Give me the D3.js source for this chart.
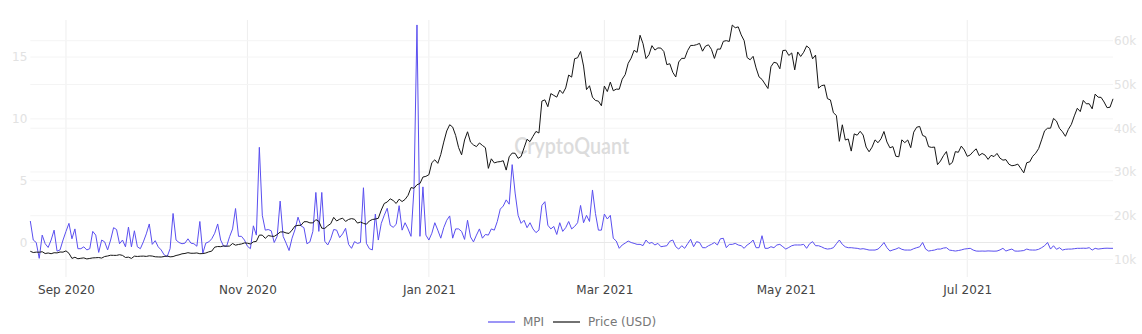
<!DOCTYPE html>
<html>
<head>
<meta charset="utf-8">
<script src="https://cdn.jsdelivr.net/npm/d3@7"></script>
<style>
  body { margin: 0; background: #fff; }
  text { font-family: "DejaVu Sans", Verdana, sans-serif; }
</style>
</head>
<body>
<svg id="chart" width="1142" height="334"></svg>
<script>
// daily values, first day 2020-08-20, last day 2021-08-19
const startDay = "2020-08-20";

const mpi = [
  1.74, 0.2, 0.0, -1.28, 0.6, -0.1, -0.4, 0.2, 1.0, -0.7,
  -0.6, 0.2, 0.9, 1.55, 0.3, 1.1, -0.5, -0.5, -0.35, -0.6,
  -0.5, 0.9, 0.6, -0.8, 0.2, 0.05, -0.6, 0.2, 1.2, 1.05,
  -0.1, 0.2, -0.35, 1.25, -0.35, 0.95, -0.35, -0.5, 0.05, 0.7,
  1.5, -0.15, 0.15, -0.35, -0.6, -1.0, -1.15, -0.5, 2.35, 0.2,
  0.0, -0.1, -0.05, 0.3, -0.05, -0.1, -0.3, 1.7, -0.88, -0.05,
  0.05, 0.3, 0.75, 1.5, 0.2, -0.3, -0.3, 0.47, 1.1, 2.75,
  0.5, 0.5, 0.2, -0.3, -0.5, 1.35, 0.6, 7.7, 2.2, 1.0,
  1.05, 0.95, 0.0, 0.5, 3.35, 0.5, -0.05, -0.65, 0.35, 1.05,
  2.05, 1.35, 1.2, -0.1, 0.05, 0.9, 4.05, 0.9, 4.05, 0.1,
  -0.2, 0.3, 1.05, 1.0, 0.4, 0.7, 1.15, -0.15, -0.47, 0.07,
  -0.07, 0.0, 4.43, -0.07, -0.5, -0.6, 2.3, 0.2, 1.55, 2.2,
  2.77, 1.4, 1.23, 1.47, 2.98, 1.0, 1.6, 1.1, 0.5, 4.38,
  17.6, 0.5, 4.5, 0.6, 0.2, 0.75, 1.6, 1.0, 0.35, 1.2,
  1.8, 2.15, 0.35, 1.1, 1.1, 0.9, 0.25, 1.8, 0.45, 0.05,
  0.6, 1.1, 0.35, 0.65, 0.6, 1.1, 1.0, 1.7, 2.7, 2.95,
  3.45, 3.1, 6.3, 4.0, 2.2, 1.55, 1.8, 1.2, 1.6, 1.1,
  0.8, 1.0, 3.0, 3.3, 1.4, 1.1, 1.3, 0.65, 1.6, 0.9,
  1.2, 1.7, 1.1, 1.3, 1.6, 3.0, 1.6, 2.2, 1.7, 4.25,
  2.35, 1.0, 1.0, 2.3, 1.9, 2.2, 0.34, 0.12, -0.47, -0.2,
  -0.05, 0.12, 0.0, -0.07, -0.15, -0.15, -0.25, 0.2, -0.07, 0.0,
  -0.2, -0.07, -0.34, -0.3, -0.26, 0.1, 0.2, -0.34, -0.53, -0.26,
  -0.47, -0.1, 0.26, -0.34, 0.07, 0.0, -0.42, -0.42, -0.26, -0.15,
  0.0, -0.2, 0.3, 0.34, -0.42, -0.15, -0.15, -0.07, -0.2, -0.26,
  -0.47, -0.2, -0.05, 0.2, -0.42, -0.42, 0.55, -0.47, -0.47, -0.34,
  -0.42, -0.2, -0.15, -0.34, -0.53, -0.4, -0.26, -0.2, -0.2, -0.2,
  -0.15, -0.47, -0.1, 0.07, -0.26, -0.26, -0.35, -0.47, -0.53, -0.5,
  -0.42, -0.1, 0.2, -0.15, -0.35, -0.42, -0.42, -0.45, -0.47, -0.53,
  -0.5, -0.55, -0.61, -0.61, -0.61, -0.53, -0.3, 0.0, -0.42, -0.69,
  -0.6, -0.53, -0.42, -0.55, -0.61, -0.61, -0.61, -0.5, -0.42, -0.35,
  0.0, -0.53, -0.69, -0.65, -0.61, -0.53, -0.53, -0.45, -0.42, -0.61,
  -0.65, -0.69, -0.65, -0.6, -0.53, -0.5, -0.47, -0.61, -0.69, -0.7,
  -0.69, -0.7, -0.68, -0.69, -0.7, -0.69, -0.6, -0.47, -0.69, -0.6,
  -0.53, -0.69, -0.7, -0.68, -0.65, -0.53, -0.6, -0.61, -0.61, -0.55,
  -0.42, -0.26, 0.0, -0.53, -0.26, -0.55, -0.42, -0.61, -0.55, -0.53,
  -0.53, -0.5, -0.47, -0.47, -0.46, -0.47, -0.42, -0.61, -0.47, -0.53,
  -0.5, -0.47, -0.46, -0.47, -0.47
];

const price = [
  11878, 11592, 11681, 11665, 11774, 11366, 11488, 11323, 11542, 11507, 11711, 11680,
  11971, 11414, 10246, 10512, 10169, 10280, 10369, 10131, 10242, 10364, 10400, 10442, 10323, 10680, 10796,
  10974, 10948, 10944, 11094, 10938, 10462, 10538, 10246, 10761, 10692, 10750, 10775, 10709, 10844, 10784,
  10620, 10585, 10565, 10680, 10796, 10602, 10668, 10915, 11064, 11296, 11384, 11555, 11425, 11429, 11495,
  11322, 11359, 11483, 11742, 11916, 12823, 12965, 12932, 13108, 13031, 13075, 13654, 13272, 13437, 13546, 13781,
  13737, 13550, 14036, 14133, 15579, 15565, 14833, 15479, 15332, 15290, 15701, 16276, 16317, 16068, 15955,
  16716, 17645, 17804, 17817, 18621, 18642, 18370, 18364, 19107, 18732, 17150, 17108, 17718, 18177, 19625,
  18802, 19201, 19445, 18699, 19154, 19345, 19191, 18321, 18553, 18264, 18058, 18803, 19142, 19246, 19417,
  21310, 22805, 23137, 23869, 23477, 22803, 23783, 23241, 23735, 24664, 26437, 26272, 27084, 27362, 28840, 29001,
  29374, 32127, 32782, 31971, 33992, 36824, 39371, 40797, 40254, 38356, 35566, 33922, 37316, 39187, 36825,
  36178, 35792, 36630, 36069, 35547, 30825, 33005, 32067, 32289, 32366, 32569, 30432, 33466, 34316, 34269, 33114,
  33538, 35510, 37472, 36926, 38144, 39266, 38903, 46196, 46481, 44919, 47910, 47505, 47105, 48717,
  47945, 49199, 52149, 51679, 55888, 56099, 57539, 54207, 48824, 49705, 47093, 46339, 46188, 45137,
  49631, 48378, 50538, 48561, 48927, 48912, 51206, 52246, 54824, 56008, 57805, 57332, 61243, 59302, 55907,
  56804, 58870, 57858, 58346, 58313, 57523, 54529, 54738, 52774, 51704, 55137, 55974, 55948, 57750, 58918, 58918,
  59095, 59384, 57603, 58759, 59058, 58020, 55948, 58093, 58072, 59861, 60011, 59828, 63577, 62959, 63160,
  61334, 60006, 56150, 55633, 56425, 53788, 51727, 51155, 50110, 49076, 54056, 55071, 54884, 53585, 57750,
  57829, 56631, 57200, 53333, 57424, 56396, 57356, 58803, 58233, 55859, 56704, 49150, 49716, 49880, 46760,
  46457, 43538, 42910, 37002, 40782, 37304, 37537, 34770, 38705, 38403, 39295, 38437, 35698, 34617, 35678, 37333,
  36685, 37576, 39248, 36856, 35520, 35797, 33588, 33473, 37345, 36703, 37313, 35551, 39098, 40218, 40407,
  38347, 38053, 35788, 35615, 35698, 31676, 32506, 33723, 34663, 31637, 32187, 34650, 34499, 35911, 35040,
  33572, 33897, 34668, 35287, 33746, 34235, 33856, 32877, 33798, 33520, 34240, 33155, 32702, 32822, 31780,
  31421, 31533, 31797, 30817, 29807, 32110, 32314, 33581, 34292, 35350, 37337, 39406, 39996, 40008, 42236, 41626,
  39975, 39202, 38153, 39747, 40870, 42817, 44556, 43798, 46366, 45586, 45594, 44429, 47794, 47096, 47047,
  45993, 44695, 44802, 46717
];

const leftTicks = [0, 5, 10, 15];
const rightTicks = [10000, 20000, 30000, 40000, 50000, 60000];
const seriesNames = ["MPI", "Price (USD)"];
const seriesColors = ["#5a4ff0", "#151515"];
const watermark = "CryptoQuant";

const parseDay = d3.timeParse("%Y-%m-%d");
const dates = mpi.map((d, i) => d3.timeDay.offset(parseDay(startDay), i));

const plotLeft = 30.3, plotRight = 1113, plotTop = 20, plotBottom = 277;

const svg = d3.select("#chart");

const x = d3.scaleTime()
  .domain([dates[0], dates[dates.length - 1]])
  .range([plotLeft, plotRight]);
const yLeft = d3.scaleLinear().domain([-2.79, 18.0]).range([plotBottom, plotTop]);
const yRight = d3.scaleLinear().domain([6000, 64730]).range([plotBottom, plotTop]);

const monthTicks = x.ticks(d3.timeMonth.every(2));

// grid
const grid = svg.append("g");
grid.selectAll(".vgrid").data(monthTicks).join("line")
  .attr("x1", d => x(d)).attr("x2", d => x(d))
  .attr("y1", plotTop).attr("y2", plotBottom)
  .attr("stroke", "#eeeeee").attr("stroke-width", 1);
grid.selectAll(".rgrid").data(rightTicks).join("line")
  .attr("x1", plotLeft).attr("x2", plotRight)
  .attr("y1", d => yRight(d)).attr("y2", d => yRight(d))
  .attr("stroke", "#f4f4f4").attr("stroke-width", 1);
grid.selectAll(".lgrid").data(leftTicks).join("line")
  .attr("x1", plotLeft).attr("x2", plotRight)
  .attr("y1", d => yLeft(d)).attr("y2", d => yLeft(d))
  .attr("stroke", d => d === 0 ? "#e8e8e8" : "#f4f4f4").attr("stroke-width", 1);

// watermark
svg.append("text")
  .attr("x", (plotLeft + plotRight) / 2).attr("y", 148)
  .attr("text-anchor", "middle").attr("dominant-baseline", "middle")
  .attr("font-size", 22).attr("font-weight", 600)
  .style("font-family", "Lato, 'Open Sans', sans-serif")
  .attr("textLength", 115).attr("lengthAdjust", "spacingAndGlyphs")
  .attr("fill", "#dcdcdc")
  .text(watermark);

// axes
const xAxis = svg.append("g")
  .attr("transform", `translate(0,${plotBottom})`)
  .call(d3.axisBottom(x).tickValues(monthTicks).tickFormat(d3.timeFormat("%b %Y")).tickSize(0).tickPadding(8));
xAxis.select(".domain").remove();
xAxis.selectAll("text").attr("fill", "#444").attr("font-size", 12)
  .style("font-family", "'DejaVu Sans', Verdana, sans-serif");

const leftAxis = svg.append("g")
  .attr("transform", `translate(${plotLeft},0)`)
  .call(d3.axisLeft(yLeft).tickValues(leftTicks).tickSize(0).tickPadding(3));
leftAxis.select(".domain").remove();
leftAxis.selectAll("text").attr("fill", "#e2e2e2").attr("font-size", 12)
  .style("font-family", "'DejaVu Sans', Verdana, sans-serif");

const rightAxis = svg.append("g")
  .attr("transform", `translate(${plotRight},0)`)
  .call(d3.axisRight(yRight).tickValues(rightTicks).tickFormat(d3.format("~s")).tickSize(0).tickPadding(1));
rightAxis.select(".domain").remove();
rightAxis.selectAll("text").attr("fill", "#e2e2e2").attr("font-size", 12)
  .style("font-family", "'DejaVu Sans', Verdana, sans-serif");

// lines
const mpiLine = d3.line().x((d, i) => x(dates[i])).y(d => yLeft(d));
const priceLine = d3.line().x((d, i) => x(dates[i])).y(d => yRight(d));

svg.append("path").datum(mpi)
  .attr("d", mpiLine).attr("fill", "none")
  .attr("stroke", seriesColors[0]).attr("stroke-width", 1);
svg.append("path").datum(price)
  .attr("d", priceLine).attr("fill", "none")
  .attr("stroke", seriesColors[1]).attr("stroke-width", 1);

// legend
const legendX = [488, 553];
const legend = svg.append("g");
seriesNames.forEach(function (name, k) {
  legend.append("line")
    .attr("x1", legendX[k]).attr("x2", legendX[k] + 27)
    .attr("y1", 322).attr("y2", 322)
    .attr("stroke", seriesColors[k]).attr("stroke-width", 1.2);
  legend.append("text")
    .attr("x", legendX[k] + 35).attr("y", 322)
    .attr("dominant-baseline", "middle")
    .attr("font-size", 12).attr("fill", "#777")
    .text(name);
});
</script>
</body>
</html>
